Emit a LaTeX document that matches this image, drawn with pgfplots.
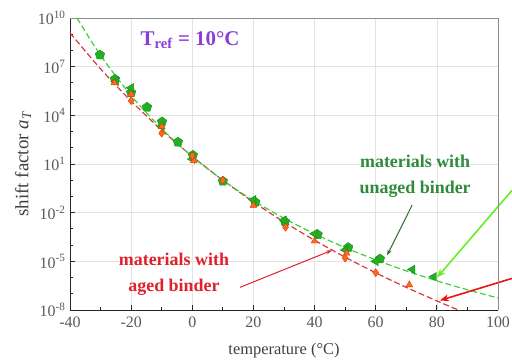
\documentclass[border=0pt]{standalone}
\usepackage{pgfplots}
\pgfplotsset{compat=1.18}
\usepackage{fontspec}
\setmainfont{Liberation Serif}
\usetikzlibrary{calc,arrows.meta}
\definecolor{gline}{HTML}{3FD03F}
\definecolor{rline}{HTML}{D23A3A}
\definecolor{gpt}{HTML}{22B022}
\definecolor{gedge}{HTML}{178A17}
\definecolor{opt}{HTML}{FF6A1A}
\definecolor{oedge}{HTML}{E03A10}
\definecolor{gtext}{HTML}{2E8B3A}
\definecolor{rtext}{HTML}{E0202A}
\definecolor{ptext}{HTML}{8B3FD6}
\definecolor{garrow}{HTML}{66EE22}
\definecolor{rarrow}{HTML}{EE1111}
\definecolor{dgarrow}{HTML}{2A6A2A}
\begin{document}
\begin{tikzpicture}
\begin{axis}[
  scale only axis, width=428bp, height=292bp,
  xmin=-40, xmax=100, ymin=1e-8, ymax=1e10, ymode=log,
  xtick={-40,-20,0,20,40,60,80,100},
  xticklabels={-40,-20,0,20,40,60,80,100},
  minor xtick={-30,-10,10,30,50,70,90},
  ytick={1e-8,1e-5,1e-2,1e1,1e4,1e7,1e10},
  yticklabels={10\textsuperscript{-8},10\textsuperscript{-5},10\textsuperscript{-2},10\textsuperscript{1},10\textsuperscript{4},10\textsuperscript{7},10\textsuperscript{10}},
  minor ytick={1e-7,1e-6,1e-4,1e-3,1e-1,1,1e2,1e3,1e5,1e6,1e8,1e9},
  grid=major, major grid style={gray!22, line width=0.6pt},
  axis x line*=bottom, axis y line*=left,
  axis line style={black!85, line width=0.9pt, -},
  tick align=inside, major tick length=5bp, minor tick length=3bp,
  tick style={black!85, line width=0.8pt},
  ticklabel style={font=\fontsize{16}{18}\selectfont, text=black!65},
  xticklabel style={yshift=-3bp},
  yticklabel style={xshift=-1bp},
  xlabel={temperature (\textdegree C)},
  ylabel={shift factor \textit{a}\textsubscript{\textit{T}}},
  xlabel style={font=\fontsize{16.5}{18}\selectfont, text=black!75, yshift=-9bp},
  ylabel style={font=\fontsize{19}{21}\selectfont, text=black!75, yshift=0bp},
  clip=false,
]
% fitted lines
\addplot[rline, dashed, dash pattern=on 6pt off 3pt, line width=1.2pt, smooth] coordinates {
(-40,1.22e9) (-30,7.31e6) (-20,7.52e4) (-10,1.22e3) (0,29.5) (10,1) (20,0.0456) (30,2.69e-3) (40,2.0e-4) (50,1.81e-5) (60,1.96e-6) (70,2.48e-7) (80,3.64e-8) (87,1.0e-8)};
\addplot[gline, dashed, dash pattern=on 6pt off 3pt, line width=1.2pt, smooth] coordinates {
(-37.7,1e10) (-30,4.98e7) (-20,1.65e5) (-10,1.49e3) (0,28.7) (10,1) (20,0.0556) (30,4.50e-3) (40,4.94e-4) (50,7.02e-5) (60,1.23e-5) (70,2.58e-6) (80,6.31e-7) (90,1.76e-7) (100,5.51e-8)};
% unaged binder points
\addplot[only marks, mark=pentagon*, mark size=5pt, draw=gedge, fill=gpt] coordinates {
(-30.2,5.25e7) (-25.3,1.70e6) (-20,2.51e5) (-14.8,3.16e4) (-9.9,3.98e3) (-4.7,224) (0.2,34.7) (10,0.871) (20.6,0.0447) (30.3,2.82e-3) (41,4.47e-4) (51,7.08e-5) (61.4,1.41e-5)};
\addplot[only marks, mark=triangle*, mark size=5pt, mark options={rotate=90}, draw=gedge, fill=gpt] coordinates {
(72,3.16e-6) (79,1.12e-6) (-20,5.01e5) (-25,1.26e6) (-10,2.0e3) (0,20) (20,0.063) (40,5.0e-4) (50,5.0e-5) (60,1.0e-5) (30,3.5e-3)};
% aged binder points
\addplot[only marks, mark=triangle*, mark size=4pt, draw=oedge, fill=opt] coordinates {
(-25.5,1e6) (-20,2.0e5) (-10,2.0e3) (0.5,15.8) (20,0.0282) (40,1.78e-4) (50.5,3.16e-5) (71,3.55e-7)};
\addplot[only marks, mark=diamond*, mark size=4pt, draw=oedge, fill=opt] coordinates {
(-20,7.94e4) (-10,794) (0,31.6) (10,1) (30.5,1.26e-3) (50,1.58e-5) (60,2.0e-6)};
% annotations
\node[font=\fontsize{21}{24}\selectfont\bfseries, text=ptext] at (axis cs:-0.7,4.4e8) {T\textsubscript{ref} = 10\textdegree C};
\node[font=\fontsize{18}{26}\selectfont\bfseries, text=gtext, align=center] at (axis cs:72.9,1.8) {materials with\\unaged binder};
\node[font=\fontsize{18}{26}\selectfont\bfseries, text=rtext, align=center] at (axis cs:-6.0,1.6e-6) {materials with\\aged binder};
\draw[dgarrow, line width=1pt, -{Stealth[length=6bp,width=4bp]}] (axis cs:71.9,0.029) -- (axis cs:63.7,2.3e-5);
\draw[rtext, line width=1pt, -{Stealth[length=6bp,width=4bp]}] (axis cs:15.6,2.5e-7) -- (axis cs:45.7,4.8e-5);
\draw[garrow, line width=1.6pt, -{Stealth[length=9bp,width=7bp]}] (axis cs:104.6,0.24) -- (axis cs:80.05,1.0e-6);
\draw[rarrow, line width=1.6pt, -{Stealth[length=9bp,width=7bp]}] (axis cs:104.6,8.9e-7) -- (axis cs:81.0,3.9e-8);
\draw[black!45, line width=0.9pt] (rel axis cs:0,1) -- (rel axis cs:1,1) -- (rel axis cs:1,0);
\coordinate (SW) at (rel axis cs:0,0);
\coordinate (NE) at (rel axis cs:1,1);
\end{axis}
\pgfresetboundingbox
\path ($(SW)+(-70bp,-50bp)$) rectangle ($(NE)+(14bp,18bp)$);
\end{tikzpicture}
\end{document}
